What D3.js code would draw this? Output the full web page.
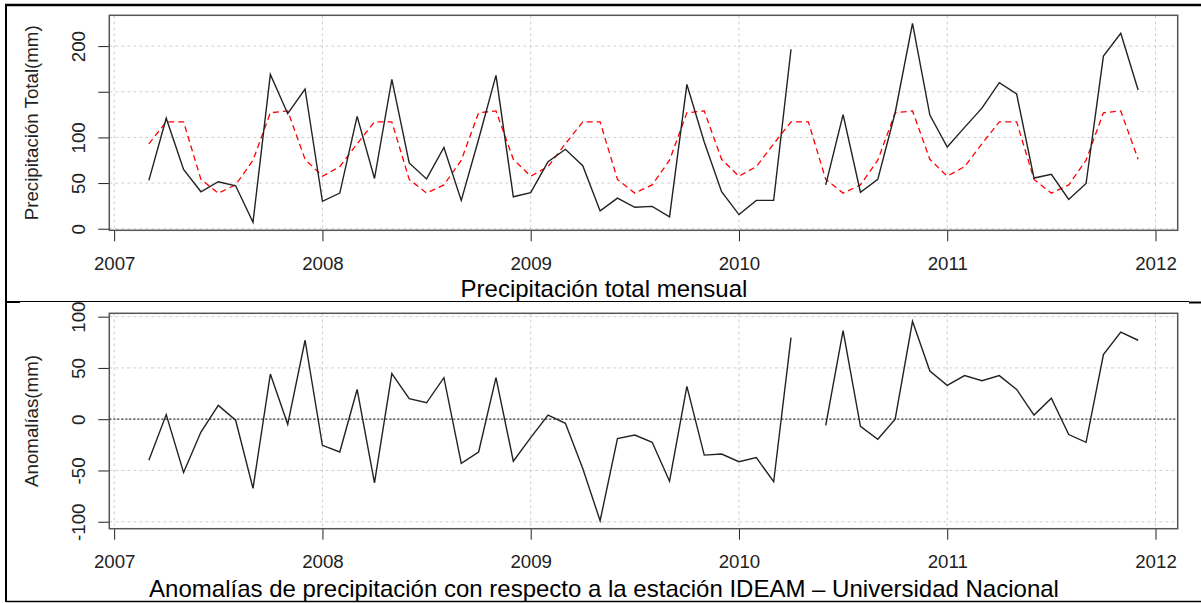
<!DOCTYPE html>
<html>
<head>
<meta charset="utf-8">
<script src="https://cdn.jsdelivr.net/npm/d3@7"></script>
<style>
  body { margin: 0; background: #fff; }
  svg { display: block; font-family: 'Liberation Sans', Arial, sans-serif; }
</style>
</head>
<body>
<svg id="chart"></svg>
<script>
const width = 1201
const height = 603

// first month of the series: March 2007 (R ts, time = year + (month-1)/12)
const startYear = 2007
const startMonth = 3

// monthly total precipitation (mm), Mar 2007 - Dec 2011, null = missing month
const precip = [
  53, 121, 65, 40.5, 51.5, 47, 7, 169, 126, 153,
  30, 39, 123, 55, 163.5, 72, 54.5, 89, 31, 98, 168, 35,
  39.5, 73.5, 87, 69, 19.5, 33.5, 23.5, 24.5, 13, 158, 95, 40.5,
  15.5, 31, 31, 196.5, null, 48, 125, 40, 54, 127, 225, 124.5,
  89.5, 111, 132, 160, 147.5, 55.5, 59.5, 32, 49.5, 189, 214, 152,
]

// long-term monthly mean (Jan..Dec), red dashed line
const climatology = [57.5, 68, 93, 117, 117, 54, 39, 48, 75, 127, 129, 76]

// anomalies (mm) with respect to the IDEAM station
const anomalies = [
  -40, 4.5, -52, -12.5, 13.5, -1, -67.5, 44, -5, 77,
  -25.5, -32, 29, -62, 44.5, 20, 16, 40.5, -43, -32, 40.5, -41,
  -18, 4, -4, -48, -99, -19, -15.5, -22.5, -60.5, 32, -35, -34,
  -41.5, -37.5, -61, 79.5, null, -6, 86.5, -7, -19.5, 0, 95.5, 47,
  33, 42.5, 37.5, 42.5, 29, 4, 20.5, -15, -22.5, 63, 85, 77,
]

const yearTicks = [2007, 2008, 2009, 2010, 2011, 2012]
const topTicks = [0, 50, 100, 150, 200]
const topTickLabels = ['0', '50', '100', '', '200']
const bottomTicks = [-100, -50, 0, 50, 100]

const topTitle = 'Precipitación total mensual'
const topYTitle = 'Precipitación Total(mm)'
const bottomTitle = 'Anomalías de precipitación con respecto a la estación IDEAM – Universidad Nacional'
const bottomYTitle = 'Anomalías(mm)'

const svg = d3.select('#chart').attr('width', width).attr('height', height)

// --------------------------------------------------------------
// build the series rows
const time = (i) => startYear + (startMonth - 1 + i) / 12
const precipData = precip.map((v, i) => ({ t: time(i), v: v }))
const climData = precip.map((v, i) => ({
  t: time(i),
  v: climatology[(startMonth - 1 + i) % 12],
}))
const anomData = anomalies.map((v, i) => ({ t: time(i), v: v }))

// R style 4% padding
const pad = function (ext) {
  const d = (ext[1] - ext[0]) * 0.04
  return [ext[0] - d, ext[1] + d]
}

const left = 109.3
const right = 1177.7

const x = d3
  .scaleLinear()
  .domain(pad(d3.extent(precipData, (d) => d.t)))
  .range([left, right])

// --------------------------------------------------------------
// one panel
const drawPanel = function ({ top, bottom, domain, ticks, tickLabels, yTitle, title, titleY }) {
  const y = d3.scaleLinear().domain(domain).range([bottom, top])
  const g = svg.append('g')

  // grid
  g.append('g')
    .selectAll('line')
    .data(yearTicks)
    .join('line')
    .attr('x1', (d) => x(d))
    .attr('x2', (d) => x(d))
    .attr('y1', top)
    .attr('y2', bottom)
    .attr('stroke', '#cfcfcf')
    .attr('stroke-dasharray', '3,3')
  g.append('g')
    .selectAll('line')
    .data(ticks)
    .join('line')
    .attr('x1', left)
    .attr('x2', right)
    .attr('y1', (d) => y(d))
    .attr('y2', (d) => y(d))
    .attr('stroke', '#cfcfcf')
    .attr('stroke-dasharray', '3,3')

  // axes
  const xAxis = g
    .append('g')
    .attr('transform', `translate(0,${bottom})`)
    .call(d3.axisBottom(x).tickValues(yearTicks).tickFormat(d3.format('d')).tickSize(11).tickSizeOuter(0))
  xAxis.select('.domain').remove()
  xAxis.selectAll('line').attr('stroke', '#222')
  xAxis
    .selectAll('text')
    .attr('y', 39.5)
    .attr('dy', null)
    .attr('fill', '#222')
    .style('font-size', '18.7px')
    .style('font-family', "'Liberation Sans', Arial, sans-serif")

  const yAxis = g
    .append('g')
    .attr('transform', `translate(${left},0)`)
    .call(
      d3.axisLeft(y)
        .tickValues(ticks)
        .tickFormat((d, i) => tickLabels[i])
        .tickSize(11)
        .tickSizeOuter(0)
    )
  yAxis.select('.domain').remove()
  yAxis.selectAll('line').attr('stroke', '#222')
  yAxis
    .selectAll('text')
    .attr('x', null)
    .attr('dy', null)
    .attr('transform', 'translate(-24,0) rotate(-90)')
    .attr('text-anchor', 'middle')
    .attr('fill', '#222')
    .style('font-size', '18.7px')
    .style('font-family', "'Liberation Sans', Arial, sans-serif")

  // box
  g.append('rect')
    .attr('x', left)
    .attr('y', top)
    .attr('width', right - left)
    .attr('height', bottom - top)
    .attr('fill', 'none')
    .attr('stroke', '#555')
    .attr('stroke-width', 1.5)

  // axis title
  g.append('text')
    .attr('transform', `translate(38,${(top + bottom) / 2}) rotate(-90)`)
    .attr('text-anchor', 'middle')
    .attr('fill', '#222')
    .style('font-size', '18.7px')
    .text(yTitle)

  // caption
  g.append('text')
    .attr('x', 604)
    .attr('y', titleY)
    .attr('text-anchor', 'middle')
    .attr('fill', '#000')
    .style('font-size', '24px')
    .text(title)

  return { g, y }
}

// --------------------------------------------------------------
// top panel
const topPanel = drawPanel({
  top: 15.3,
  bottom: 230.3,
  domain: pad(d3.extent(precip)),
  ticks: topTicks,
  tickLabels: topTickLabels,
  yTitle: topYTitle,
  title: topTitle,
  titleY: 296.5,
})

const lineTop = d3
  .line()
  .defined((d) => d.v !== null)
  .x((d) => x(d.t))
  .y((d) => topPanel.y(d.v))

topPanel.g
  .append('path')
  .datum(climData)
  .attr('d', lineTop)
  .attr('fill', 'none')
  .attr('stroke', '#ff0000')
  .attr('stroke-width', 1.3)
  .attr('stroke-dasharray', '6,4')

topPanel.g
  .append('path')
  .datum(precipData)
  .attr('d', lineTop)
  .attr('fill', 'none')
  .attr('stroke', '#222')
  .attr('stroke-width', 1.4)

// --------------------------------------------------------------
// bottom panel
const bottomPanel = drawPanel({
  top: 313.3,
  bottom: 528.7,
  domain: pad(d3.extent(anomalies)),
  ticks: bottomTicks,
  tickLabels: bottomTicks.map(String),
  yTitle: bottomYTitle,
  title: bottomTitle,
  titleY: 597,
})

// zero line
bottomPanel.g
  .append('line')
  .attr('x1', left)
  .attr('x2', right)
  .attr('y1', bottomPanel.y(0))
  .attr('y2', bottomPanel.y(0))
  .attr('stroke', '#333')
  .attr('stroke-width', 1.2)
  .attr('stroke-dasharray', '2,2')

const lineBottom = d3
  .line()
  .defined((d) => d.v !== null)
  .x((d) => x(d.t))
  .y((d) => bottomPanel.y(d.v))

bottomPanel.g
  .append('path')
  .datum(anomData)
  .attr('d', lineBottom)
  .attr('fill', 'none')
  .attr('stroke', '#222')
  .attr('stroke-width', 1.4)

// --------------------------------------------------------------
// document frame lines
const frame = svg.append('g').attr('stroke', '#000')
frame.append('line').attr('x1', 5).attr('x2', width).attr('y1', 5).attr('y2', 5).attr('stroke-width', 2.5)
frame.append('line').attr('x1', 6).attr('x2', 6).attr('y1', 4).attr('y2', 602).attr('stroke-width', 2)
frame.append('line').attr('x1', 6).attr('x2', 1189).attr('y1', 301.5).attr('y2', 301.5).attr('stroke-width', 1.2)
frame.append('line').attr('x1', 6).attr('x2', 20).attr('y1', 302).attr('y2', 302).attr('stroke-width', 2)
frame.append('line').attr('x1', 1189).attr('x2', width).attr('y1', 302.5).attr('y2', 302.5).attr('stroke-width', 2)
frame.append('line').attr('x1', 6).attr('x2', width).attr('y1', 601.5).attr('y2', 601.5).attr('stroke-width', 1.5)
</script>
</body>
</html>
